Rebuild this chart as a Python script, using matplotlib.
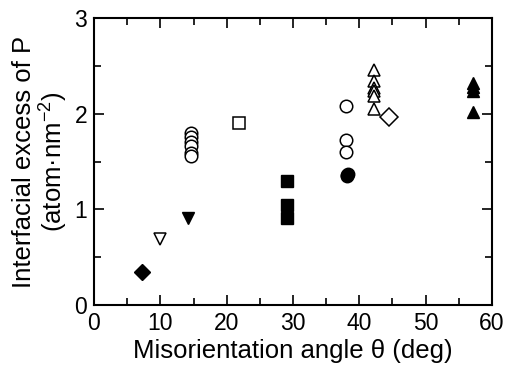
import matplotlib
matplotlib.use("Agg")
import matplotlib.pyplot as plt
from matplotlib.ticker import MultipleLocator

plt.rcParams['font.family'] = ['Liberation Sans', 'DejaVu Sans']
plt.rcParams['mathtext.fontset'] = 'custom'
plt.rcParams['mathtext.rm'] = 'Liberation Sans'

# data series: (x values, y values)
fd_x = [7.3]; fd_y = [0.35]                       # filled diamond
odt_x = [10.0]; odt_y = [0.69]                    # open down triangle
fdt_x = [14.1]; fdt_y = [0.91]                    # filled down triangle
oc1_x = [14.6, 14.6, 14.6, 14.6, 14.6, 14.6]
oc1_y = [1.80, 1.76, 1.70, 1.66, 1.59, 1.56]      # open circles (cluster)
osq_x = [21.8]; osq_y = [1.90]                    # open square
fsq_x = [29.05, 29.05, 29.05]; fsq_y = [1.30, 1.045, 0.91]   # filled squares
oc2_x = [38.0, 38.0, 38.0]; oc2_y = [2.08, 1.72, 1.60]       # open circles
fc_x = [38.1, 38.3, 38.2]; fc_y = [1.35, 1.37, 1.36]         # filled circles
out_x = [42.2, 42.2, 42.2, 42.2, 42.2, 42.2]
out_y = [2.46, 2.34, 2.27, 2.24, 2.18, 2.05]      # open up triangles
od_x = [44.5]; od_y = [1.96]                      # open diamond
fut_x = [57.1, 57.1, 57.1, 57.1]; fut_y = [2.32, 2.28, 2.24, 2.02]  # filled up triangles

fig = plt.figure(figsize=(5.06, 3.66), dpi=100)
ax = fig.add_axes([94/506, 1-305/366, (492-94)/506, (305-18)/366])

ms = 9
kw_f = dict(color='black', linestyle='none')
kw_o = dict(markerfacecolor='white', markeredgecolor='black', linestyle='none', markeredgewidth=1.1)

ax.plot(fd_x, fd_y, marker='D', markersize=8, **kw_f)
ax.plot(odt_x, odt_y, marker='v', markersize=ms, **kw_o)
ax.plot(fdt_x, fdt_y, marker='v', markersize=ms, **kw_f)
ax.plot(oc1_x, oc1_y, marker='o', markersize=ms, **kw_o)
ax.plot(osq_x, osq_y, marker='s', markersize=ms, **kw_o)
ax.plot(fsq_x, fsq_y, marker='s', markersize=ms, **kw_f)
ax.plot(oc2_x, oc2_y, marker='o', markersize=ms, **kw_o)
ax.plot(fc_x, fc_y, marker='o', markersize=ms, **kw_f)
ax.plot(out_x, out_y, marker='^', markersize=ms, **kw_o)
ax.plot(od_x, od_y, marker='D', markersize=ms, **kw_o)
ax.plot(fut_x, fut_y, marker='^', markersize=ms, **kw_f)

ax.set_xlim(0, 60)
ax.set_ylim(0, 3)
ax.xaxis.set_major_locator(MultipleLocator(10))
ax.xaxis.set_minor_locator(MultipleLocator(5))
ax.yaxis.set_major_locator(MultipleLocator(1))
ax.yaxis.set_minor_locator(MultipleLocator(0.5))
ax.tick_params(which='both', direction='in', top=True, right=True, width=1.2, labelsize=16.5)
ax.tick_params(which='major', length=7)
ax.tick_params(which='minor', length=5)
ax.tick_params(axis='x', pad=5)
ax.tick_params(axis='y', pad=5)
for s in ax.spines.values():
    s.set_linewidth(1.5)

ax.set_xlabel('Misorientation angle θ (deg)', fontsize=18.5, labelpad=3)
ax.set_ylabel('Interfacial excess of P\n(atom·nm$^{-2}$)', fontsize=18.5, labelpad=4, linespacing=1.0)

fig.savefig('out.png', dpi=100)
